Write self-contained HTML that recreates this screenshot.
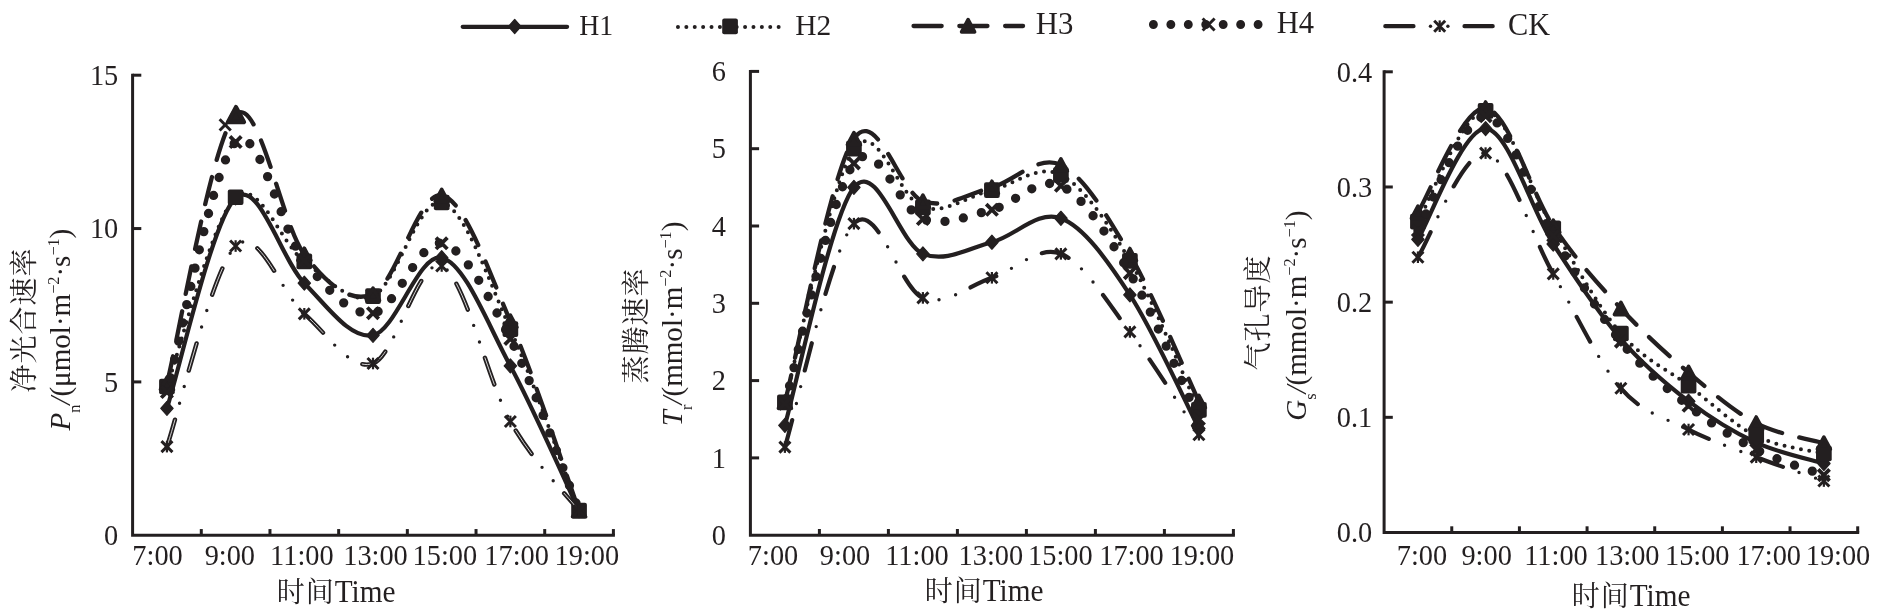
<!DOCTYPE html>
<html lang="zh"><head><meta charset="utf-8"><title>Diurnal variation of photosynthesis</title>
<style>html,body{margin:0;padding:0;background:#fff}svg{display:block;will-change:transform}text{font-family:'Liberation Serif', 'Noto Serif CJK SC', serif;fill:#231f20}</style></head><body>
<svg width="1893" height="615" viewBox="0 0 1893 615">
<rect width="1893" height="615" fill="#fff"/>
<path d="M166.94 408.28 C178.39 373.22 212.73 218.74 235.63 197.88 C258.52 177.03 281.42 260.25 304.31 283.15 C327.21 306.05 350.10 339.53 373.00 335.29 C395.90 331.04 418.79 252.58 441.69 257.69 C464.58 262.80 487.48 323.79 510.37 365.96 C533.27 408.13 567.61 486.60 579.06 510.72" fill="none" stroke="#231f20" stroke-width="4.2" stroke-linecap="round" stroke-linejoin="round"/>
<path d="M166.94 401.28 L173.14 408.28 L166.94 415.28 L160.74 408.28Z" fill="#231f20" stroke="#231f20" stroke-width="1.2" stroke-linejoin="round"/>
<path d="M235.63 190.88 L241.83 197.88 L235.63 204.88 L229.43 197.88Z" fill="#231f20" stroke="#231f20" stroke-width="1.2" stroke-linejoin="round"/>
<path d="M304.31 276.15 L310.51 283.15 L304.31 290.15 L298.11 283.15Z" fill="#231f20" stroke="#231f20" stroke-width="1.2" stroke-linejoin="round"/>
<path d="M373.00 328.29 L379.20 335.29 L373.00 342.29 L366.80 335.29Z" fill="#231f20" stroke="#231f20" stroke-width="1.2" stroke-linejoin="round"/>
<path d="M441.69 250.69 L447.89 257.69 L441.69 264.69 L435.49 257.69Z" fill="#231f20" stroke="#231f20" stroke-width="1.2" stroke-linejoin="round"/>
<path d="M510.37 358.96 L516.57 365.96 L510.37 372.96 L504.17 365.96Z" fill="#231f20" stroke="#231f20" stroke-width="1.2" stroke-linejoin="round"/>
<path d="M579.06 503.72 L585.26 510.72 L579.06 517.72 L572.86 510.72Z" fill="#231f20" stroke="#231f20" stroke-width="1.2" stroke-linejoin="round"/>
<path d="M166.94 386.51 C178.39 354.97 212.73 218.13 235.63 197.27 C258.52 176.41 281.42 244.91 304.31 261.37 C327.21 277.83 350.10 305.84 373.00 296.03 C395.90 286.21 418.79 196.96 441.69 202.48 C464.58 208.00 487.48 277.78 510.37 329.15 C533.27 380.53 567.61 480.46 579.06 510.72" fill="none" stroke="#231f20" stroke-width="4.0" stroke-linecap="round" stroke-linejoin="round" stroke-dasharray="0 8.39"/>
<rect x="159.09" y="378.66" width="15.70" height="15.70" rx="2" fill="#231f20"/>
<rect x="227.78" y="189.42" width="15.70" height="15.70" rx="2" fill="#231f20"/>
<rect x="296.46" y="253.52" width="15.70" height="15.70" rx="2" fill="#231f20"/>
<rect x="365.15" y="288.18" width="15.70" height="15.70" rx="2" fill="#231f20"/>
<rect x="433.84" y="194.63" width="15.70" height="15.70" rx="2" fill="#231f20"/>
<rect x="502.52" y="321.30" width="15.70" height="15.70" rx="2" fill="#231f20"/>
<rect x="571.21" y="502.87" width="15.70" height="15.70" rx="2" fill="#231f20"/>
<path d="M166.94 383.44 C178.39 338.61 212.73 135.98 235.63 114.46 C258.52 92.94 281.42 224.36 304.31 254.32 C327.21 284.27 350.10 304.00 373.00 294.19 C395.90 284.37 418.79 190.93 441.69 195.43 C464.58 199.93 487.48 268.63 510.37 321.18 C533.27 373.73 567.61 479.13 579.06 510.72" fill="none" stroke="#231f20" stroke-width="4.3" stroke-linecap="round" stroke-linejoin="round" stroke-dasharray="28.1 17.7"/>
<path d="M166.94 377.34 L173.44 389.54 L160.44 389.54Z" fill="#231f20" stroke="#231f20" stroke-width="3.60" stroke-linejoin="round"/>
<path d="M235.63 108.36 L242.13 120.56 L229.13 120.56Z" fill="#231f20" stroke="#231f20" stroke-width="3.60" stroke-linejoin="round"/>
<path d="M304.31 248.22 L310.81 260.42 L297.81 260.42Z" fill="#231f20" stroke="#231f20" stroke-width="3.60" stroke-linejoin="round"/>
<path d="M373.00 288.09 L379.50 300.29 L366.50 300.29Z" fill="#231f20" stroke="#231f20" stroke-width="3.60" stroke-linejoin="round"/>
<path d="M441.69 189.33 L448.19 201.53 L435.19 201.53Z" fill="#231f20" stroke="#231f20" stroke-width="3.60" stroke-linejoin="round"/>
<path d="M510.37 315.08 L516.87 327.28 L503.87 327.28Z" fill="#231f20" stroke="#231f20" stroke-width="3.60" stroke-linejoin="round"/>
<path d="M579.06 504.62 L585.56 516.82 L572.56 516.82Z" fill="#231f20" stroke="#231f20" stroke-width="3.60" stroke-linejoin="round"/>
<path d="M166.94 392.03 C178.39 350.37 212.73 163.94 235.63 142.06 C258.52 120.18 281.42 232.23 304.31 260.76 C327.21 289.28 350.10 316.12 373.00 313.20 C395.90 310.29 418.79 238.98 441.69 243.28 C464.58 247.57 487.48 294.39 510.37 338.97 C533.27 383.54 567.61 482.10 579.06 510.72" fill="none" stroke="#231f20" stroke-width="9.3" stroke-linecap="round" stroke-linejoin="round" stroke-dasharray="0 18.7" stroke-dashoffset="3.8"/>
<path d="M161.24 386.33 L172.64 397.73 M161.24 397.73 L172.64 386.33" stroke="#231f20" stroke-width="3.8" fill="none"/>
<path d="M229.93 136.36 L241.33 147.76 M229.93 147.76 L241.33 136.36" stroke="#231f20" stroke-width="3.8" fill="none"/>
<path d="M298.61 255.06 L310.01 266.46 M298.61 266.46 L310.01 255.06" stroke="#231f20" stroke-width="3.8" fill="none"/>
<path d="M367.30 307.50 L378.70 318.90 M367.30 318.90 L378.70 307.50" stroke="#231f20" stroke-width="3.8" fill="none"/>
<path d="M435.99 237.58 L447.39 248.98 M435.99 248.98 L447.39 237.58" stroke="#231f20" stroke-width="3.8" fill="none"/>
<path d="M504.67 333.27 L516.07 344.67 M504.67 344.67 L516.07 333.27" stroke="#231f20" stroke-width="3.8" fill="none"/>
<path d="M573.36 505.02 L584.76 516.42 M573.36 516.42 L584.76 505.02" stroke="#231f20" stroke-width="3.8" fill="none"/>
<path d="M166.94 446.62 C178.39 413.19 212.73 268.17 235.63 246.04 C258.52 223.90 281.42 294.24 304.31 313.82 C327.21 333.40 350.10 371.48 373.00 363.50 C395.90 355.53 418.79 256.31 441.69 265.97 C464.58 275.63 487.48 380.68 510.37 421.47 C533.27 462.26 567.61 495.85 579.06 510.72" fill="none" stroke="#231f20" stroke-width="4.4" stroke-linecap="round" stroke-linejoin="round" stroke-dasharray="28.2 51"/>
<path d="M166.94 446.62 C178.39 413.19 212.73 268.17 235.63 246.04 C258.52 223.90 281.42 294.24 304.31 313.82 C327.21 333.40 350.10 371.48 373.00 363.50 C395.90 355.53 418.79 256.31 441.69 265.97 C464.58 275.63 487.48 380.68 510.37 421.47 C533.27 462.26 567.61 495.85 579.06 510.72" fill="none" stroke="#fff" stroke-width="0.8" stroke-linecap="round" stroke-linejoin="round" stroke-dasharray="28.2 51"/>
<path d="M166.94 446.62 C178.39 413.19 212.73 268.17 235.63 246.04 C258.52 223.90 281.42 294.24 304.31 313.82 C327.21 333.40 350.10 371.48 373.00 363.50 C395.90 355.53 418.79 256.31 441.69 265.97 C464.58 275.63 487.48 380.68 510.37 421.47 C533.27 462.26 567.61 495.85 579.06 510.72" fill="none" stroke="#231f20" stroke-width="3.4" stroke-linecap="round" stroke-linejoin="round" stroke-dasharray="0 79.2" stroke-dashoffset="-45.2"/>
<path d="M166.94 446.62 C178.39 413.19 212.73 268.17 235.63 246.04 C258.52 223.90 281.42 294.24 304.31 313.82 C327.21 333.40 350.10 371.48 373.00 363.50 C395.90 355.53 418.79 256.31 441.69 265.97 C464.58 275.63 487.48 380.68 510.37 421.47 C533.27 462.26 567.61 495.85 579.06 510.72" fill="none" stroke="#231f20" stroke-width="3.4" stroke-linecap="round" stroke-linejoin="round" stroke-dasharray="0 79.2" stroke-dashoffset="-62.6"/>
<path d="M161.44 441.12 L172.44 452.12 M161.44 452.12 L172.44 441.12" stroke="#231f20" stroke-width="3" fill="none"/><path d="M166.94 440.82 L166.94 452.42" stroke="#231f20" stroke-width="2.2" fill="none"/>
<path d="M230.13 240.54 L241.13 251.54 M230.13 251.54 L241.13 240.54" stroke="#231f20" stroke-width="3" fill="none"/><path d="M235.63 240.24 L235.63 251.84" stroke="#231f20" stroke-width="2.2" fill="none"/>
<path d="M298.81 308.32 L309.81 319.32 M298.81 319.32 L309.81 308.32" stroke="#231f20" stroke-width="3" fill="none"/><path d="M304.31 308.02 L304.31 319.62" stroke="#231f20" stroke-width="2.2" fill="none"/>
<path d="M367.50 358.00 L378.50 369.00 M367.50 369.00 L378.50 358.00" stroke="#231f20" stroke-width="3" fill="none"/><path d="M373.00 357.70 L373.00 369.30" stroke="#231f20" stroke-width="2.2" fill="none"/>
<path d="M436.19 260.47 L447.19 271.47 M436.19 271.47 L447.19 260.47" stroke="#231f20" stroke-width="3" fill="none"/><path d="M441.69 260.17 L441.69 271.77" stroke="#231f20" stroke-width="2.2" fill="none"/>
<path d="M504.87 415.97 L515.87 426.97 M504.87 426.97 L515.87 415.97" stroke="#231f20" stroke-width="3" fill="none"/><path d="M510.37 415.67 L510.37 427.27" stroke="#231f20" stroke-width="2.2" fill="none"/>
<path d="M573.56 505.22 L584.56 516.22 M573.56 516.22 L584.56 505.22" stroke="#231f20" stroke-width="3" fill="none"/><path d="M579.06 504.92 L579.06 516.52" stroke="#231f20" stroke-width="2.2" fill="none"/>
<path d="M132.60 73.70 V535.26 H614.90" fill="none" stroke="#231f20" stroke-width="3.0" stroke-linejoin="miter"/>
<path d="M132.60 381.91 h8.7" stroke="#231f20" stroke-width="3.0"/>
<path d="M132.60 228.55 h8.7" stroke="#231f20" stroke-width="3.0"/>
<path d="M132.60 75.20 h8.7" stroke="#231f20" stroke-width="3.0"/>
<path d="M201.29 535.26 v-6.2" stroke="#231f20" stroke-width="3.0"/>
<path d="M269.97 535.26 v-6.2" stroke="#231f20" stroke-width="3.0"/>
<path d="M338.66 535.26 v-6.2" stroke="#231f20" stroke-width="3.0"/>
<path d="M407.34 535.26 v-6.2" stroke="#231f20" stroke-width="3.0"/>
<path d="M476.03 535.26 v-6.2" stroke="#231f20" stroke-width="3.0"/>
<path d="M544.71 535.26 v-6.2" stroke="#231f20" stroke-width="3.0"/>
<path d="M613.40 535.26 v-6.2" stroke="#231f20" stroke-width="3.0"/>
<text transform="translate(118.30 544.96) scale(0.93 1)" font-size="30.5" text-anchor="end" >0</text>
<text transform="translate(118.30 391.61) scale(0.93 1)" font-size="30.5" text-anchor="end" >5</text>
<text transform="translate(118.30 238.25) scale(0.93 1)" font-size="30.5" text-anchor="end" >10</text>
<text transform="translate(118.30 84.90) scale(0.93 1)" font-size="30.5" text-anchor="end" >15</text>
<text transform="translate(157.55 565.30) scale(0.93 1)" font-size="30.5" text-anchor="middle" >7:00</text>
<text transform="translate(229.85 565.30) scale(0.93 1)" font-size="30.5" text-anchor="middle" >9:00</text>
<text transform="translate(301.85 565.30) scale(0.93 1)" font-size="30.5" text-anchor="middle" >11:00</text>
<text transform="translate(375.50 565.30) scale(0.93 1)" font-size="30.5" text-anchor="middle" >13:00</text>
<text transform="translate(444.90 565.30) scale(0.93 1)" font-size="30.5" text-anchor="middle" >15:00</text>
<text transform="translate(516.60 565.30) scale(0.93 1)" font-size="30.5" text-anchor="middle" >17:00</text>
<text transform="translate(586.85 565.30) scale(0.93 1)" font-size="30.5" text-anchor="middle" >19:00</text>
<path d="M219.6 119.3 l11.2 11.2 M219.6 130.5 l11.2 -11.2" stroke="#231f20" stroke-width="3" fill="none"/>
<path d="M236.00 107.16 L243.93 122.04 L228.07 122.04Z" fill="#231f20" stroke="#231f20" stroke-width="4.39" stroke-linejoin="round"/>
<path d="M784.90 425.43 C796.40 385.75 830.90 215.95 853.90 187.35 C876.90 158.75 899.90 244.68 922.90 253.83 C945.90 262.98 968.90 248.16 991.90 242.23 C1014.90 236.31 1037.90 209.51 1060.90 218.27 C1083.90 227.03 1106.90 259.75 1129.90 294.80 C1152.90 329.84 1187.40 406.24 1198.90 428.53" fill="none" stroke="#231f20" stroke-width="4.2" stroke-linecap="round" stroke-linejoin="round"/>
<path d="M784.90 418.43 L791.10 425.43 L784.90 432.43 L778.70 425.43Z" fill="#231f20" stroke="#231f20" stroke-width="1.2" stroke-linejoin="round"/>
<path d="M853.90 180.35 L860.10 187.35 L853.90 194.35 L847.70 187.35Z" fill="#231f20" stroke="#231f20" stroke-width="1.2" stroke-linejoin="round"/>
<path d="M922.90 246.83 L929.10 253.83 L922.90 260.83 L916.70 253.83Z" fill="#231f20" stroke="#231f20" stroke-width="1.2" stroke-linejoin="round"/>
<path d="M991.90 235.23 L998.10 242.23 L991.90 249.23 L985.70 242.23Z" fill="#231f20" stroke="#231f20" stroke-width="1.2" stroke-linejoin="round"/>
<path d="M1060.90 211.27 L1067.10 218.27 L1060.90 225.27 L1054.70 218.27Z" fill="#231f20" stroke="#231f20" stroke-width="1.2" stroke-linejoin="round"/>
<path d="M1129.90 287.80 L1136.10 294.80 L1129.90 301.80 L1123.70 294.80Z" fill="#231f20" stroke="#231f20" stroke-width="1.2" stroke-linejoin="round"/>
<path d="M1198.90 421.53 L1205.10 428.53 L1198.90 435.53 L1192.70 428.53Z" fill="#231f20" stroke="#231f20" stroke-width="1.2" stroke-linejoin="round"/>
<path d="M784.90 402.24 C796.40 359.99 830.90 181.17 853.90 148.70 C876.90 116.23 899.90 200.56 922.90 207.45 C945.90 214.34 968.90 195.47 991.90 190.06 C1014.90 184.64 1037.90 163.19 1060.90 174.98 C1083.90 186.77 1106.90 221.62 1129.90 260.79 C1152.90 299.95 1187.40 385.11 1198.90 409.97" fill="none" stroke="#231f20" stroke-width="4.0" stroke-linecap="round" stroke-linejoin="round" stroke-dasharray="0 8.39"/>
<rect x="777.05" y="394.39" width="15.70" height="15.70" rx="2" fill="#231f20"/>
<rect x="846.05" y="140.85" width="15.70" height="15.70" rx="2" fill="#231f20"/>
<rect x="915.05" y="199.60" width="15.70" height="15.70" rx="2" fill="#231f20"/>
<rect x="984.05" y="182.21" width="15.70" height="15.70" rx="2" fill="#231f20"/>
<rect x="1053.05" y="167.13" width="15.70" height="15.70" rx="2" fill="#231f20"/>
<rect x="1122.05" y="252.94" width="15.70" height="15.70" rx="2" fill="#231f20"/>
<rect x="1191.05" y="402.12" width="15.70" height="15.70" rx="2" fill="#231f20"/>
<path d="M784.90 402.24 C796.40 358.31 830.90 172.15 853.90 138.65 C876.90 105.15 899.90 193.15 922.90 201.26 C945.90 209.38 968.90 193.41 991.90 187.35 C1014.90 181.29 1037.90 153.72 1060.90 164.93 C1083.90 176.14 1106.90 215.18 1129.90 254.60 C1152.90 294.02 1187.40 376.99 1198.90 401.47" fill="none" stroke="#231f20" stroke-width="4.3" stroke-linecap="round" stroke-linejoin="round" stroke-dasharray="28.1 17.7"/>
<path d="M784.90 396.14 L791.40 408.34 L778.40 408.34Z" fill="#231f20" stroke="#231f20" stroke-width="3.60" stroke-linejoin="round"/>
<path d="M853.90 132.55 L860.40 144.75 L847.40 144.75Z" fill="#231f20" stroke="#231f20" stroke-width="3.60" stroke-linejoin="round"/>
<path d="M922.90 195.16 L929.40 207.36 L916.40 207.36Z" fill="#231f20" stroke="#231f20" stroke-width="3.60" stroke-linejoin="round"/>
<path d="M991.90 181.25 L998.40 193.45 L985.40 193.45Z" fill="#231f20" stroke="#231f20" stroke-width="3.60" stroke-linejoin="round"/>
<path d="M1060.90 158.83 L1067.40 171.03 L1054.40 171.03Z" fill="#231f20" stroke="#231f20" stroke-width="3.60" stroke-linejoin="round"/>
<path d="M1129.90 248.50 L1136.40 260.70 L1123.40 260.70Z" fill="#231f20" stroke="#231f20" stroke-width="3.60" stroke-linejoin="round"/>
<path d="M1198.90 395.37 L1205.40 407.57 L1192.40 407.57Z" fill="#231f20" stroke="#231f20" stroke-width="3.60" stroke-linejoin="round"/>
<path d="M784.90 403.79 C796.40 363.72 830.90 194.18 853.90 163.39 C876.90 132.60 899.90 211.31 922.90 219.04 C945.90 226.77 968.90 215.31 991.90 209.77 C1014.90 204.23 1037.90 175.24 1060.90 185.80 C1083.90 196.37 1106.90 234.25 1129.90 273.15 C1152.90 312.06 1187.40 394.90 1198.90 419.25" fill="none" stroke="#231f20" stroke-width="9.3" stroke-linecap="round" stroke-linejoin="round" stroke-dasharray="0 18.7"/>
<path d="M779.20 398.09 L790.60 409.49 M779.20 409.49 L790.60 398.09" stroke="#231f20" stroke-width="3.8" fill="none"/>
<path d="M848.20 157.69 L859.60 169.09 M848.20 169.09 L859.60 157.69" stroke="#231f20" stroke-width="3.8" fill="none"/>
<path d="M917.20 213.34 L928.60 224.74 M917.20 224.74 L928.60 213.34" stroke="#231f20" stroke-width="3.8" fill="none"/>
<path d="M986.20 204.07 L997.60 215.47 M986.20 215.47 L997.60 204.07" stroke="#231f20" stroke-width="3.8" fill="none"/>
<path d="M1055.20 180.10 L1066.60 191.50 M1055.20 191.50 L1066.60 180.10" stroke="#231f20" stroke-width="3.8" fill="none"/>
<path d="M1124.20 267.45 L1135.60 278.85 M1124.20 278.85 L1135.60 267.45" stroke="#231f20" stroke-width="3.8" fill="none"/>
<path d="M1193.20 413.55 L1204.60 424.95 M1193.20 424.95 L1204.60 413.55" stroke="#231f20" stroke-width="3.8" fill="none"/>
<path d="M784.90 447.08 C796.40 409.85 830.90 248.55 853.90 223.68 C876.90 198.82 899.90 288.87 922.90 297.89 C945.90 306.91 968.90 285.13 991.90 277.79 C1014.90 270.45 1037.90 244.81 1060.90 253.83 C1083.90 262.85 1106.90 301.75 1129.90 331.90 C1152.90 362.05 1187.40 417.58 1198.90 434.71" fill="none" stroke="#231f20" stroke-width="4.2" stroke-linecap="round" stroke-linejoin="round" stroke-dasharray="28.2 51"/>
<path d="M784.90 447.08 C796.40 409.85 830.90 248.55 853.90 223.68 C876.90 198.82 899.90 288.87 922.90 297.89 C945.90 306.91 968.90 285.13 991.90 277.79 C1014.90 270.45 1037.90 244.81 1060.90 253.83 C1083.90 262.85 1106.90 301.75 1129.90 331.90 C1152.90 362.05 1187.40 417.58 1198.90 434.71" fill="none" stroke="#231f20" stroke-width="3.4" stroke-linecap="round" stroke-linejoin="round" stroke-dasharray="0 79.2" stroke-dashoffset="-45.2"/>
<path d="M784.90 447.08 C796.40 409.85 830.90 248.55 853.90 223.68 C876.90 198.82 899.90 288.87 922.90 297.89 C945.90 306.91 968.90 285.13 991.90 277.79 C1014.90 270.45 1037.90 244.81 1060.90 253.83 C1083.90 262.85 1106.90 301.75 1129.90 331.90 C1152.90 362.05 1187.40 417.58 1198.90 434.71" fill="none" stroke="#231f20" stroke-width="3.4" stroke-linecap="round" stroke-linejoin="round" stroke-dasharray="0 79.2" stroke-dashoffset="-62.6"/>
<path d="M779.40 441.58 L790.40 452.58 M779.40 452.58 L790.40 441.58" stroke="#231f20" stroke-width="3" fill="none"/><path d="M784.90 441.28 L784.90 452.88" stroke="#231f20" stroke-width="2.2" fill="none"/>
<path d="M848.40 218.18 L859.40 229.18 M848.40 229.18 L859.40 218.18" stroke="#231f20" stroke-width="3" fill="none"/><path d="M853.90 217.88 L853.90 229.48" stroke="#231f20" stroke-width="2.2" fill="none"/>
<path d="M917.40 292.39 L928.40 303.39 M917.40 303.39 L928.40 292.39" stroke="#231f20" stroke-width="3" fill="none"/><path d="M922.90 292.09 L922.90 303.69" stroke="#231f20" stroke-width="2.2" fill="none"/>
<path d="M986.40 272.29 L997.40 283.29 M986.40 283.29 L997.40 272.29" stroke="#231f20" stroke-width="3" fill="none"/><path d="M991.90 271.99 L991.90 283.59" stroke="#231f20" stroke-width="2.2" fill="none"/>
<path d="M1055.40 248.33 L1066.40 259.33 M1055.40 259.33 L1066.40 248.33" stroke="#231f20" stroke-width="3" fill="none"/><path d="M1060.90 248.03 L1060.90 259.63" stroke="#231f20" stroke-width="2.2" fill="none"/>
<path d="M1124.40 326.40 L1135.40 337.40 M1124.40 337.40 L1135.40 326.40" stroke="#231f20" stroke-width="3" fill="none"/><path d="M1129.90 326.10 L1129.90 337.70" stroke="#231f20" stroke-width="2.2" fill="none"/>
<path d="M1193.40 429.21 L1204.40 440.21 M1193.40 440.21 L1204.40 429.21" stroke="#231f20" stroke-width="3" fill="none"/><path d="M1198.90 428.91 L1198.90 440.51" stroke="#231f20" stroke-width="2.2" fill="none"/>
<path d="M750.40 69.90 V535.20 H1234.90" fill="none" stroke="#231f20" stroke-width="3.0" stroke-linejoin="miter"/>
<path d="M750.40 457.90 h8.7" stroke="#231f20" stroke-width="3.0"/>
<path d="M750.40 380.60 h8.7" stroke="#231f20" stroke-width="3.0"/>
<path d="M750.40 303.30 h8.7" stroke="#231f20" stroke-width="3.0"/>
<path d="M750.40 226.00 h8.7" stroke="#231f20" stroke-width="3.0"/>
<path d="M750.40 148.70 h8.7" stroke="#231f20" stroke-width="3.0"/>
<path d="M750.40 71.40 h8.7" stroke="#231f20" stroke-width="3.0"/>
<path d="M819.40 535.20 v-6.2" stroke="#231f20" stroke-width="3.0"/>
<path d="M888.40 535.20 v-6.2" stroke="#231f20" stroke-width="3.0"/>
<path d="M957.40 535.20 v-6.2" stroke="#231f20" stroke-width="3.0"/>
<path d="M1026.40 535.20 v-6.2" stroke="#231f20" stroke-width="3.0"/>
<path d="M1095.40 535.20 v-6.2" stroke="#231f20" stroke-width="3.0"/>
<path d="M1164.40 535.20 v-6.2" stroke="#231f20" stroke-width="3.0"/>
<path d="M1233.40 535.20 v-6.2" stroke="#231f20" stroke-width="3.0"/>
<text transform="translate(726.00 544.90) scale(0.93 1)" font-size="30.5" text-anchor="end" >0</text>
<text transform="translate(726.00 467.60) scale(0.93 1)" font-size="30.5" text-anchor="end" >1</text>
<text transform="translate(726.00 390.30) scale(0.93 1)" font-size="30.5" text-anchor="end" >2</text>
<text transform="translate(726.00 313.00) scale(0.93 1)" font-size="30.5" text-anchor="end" >3</text>
<text transform="translate(726.00 235.70) scale(0.93 1)" font-size="30.5" text-anchor="end" >4</text>
<text transform="translate(726.00 158.40) scale(0.93 1)" font-size="30.5" text-anchor="end" >5</text>
<text transform="translate(726.00 81.10) scale(0.93 1)" font-size="30.5" text-anchor="end" >6</text>
<text transform="translate(773.05 565.40) scale(0.93 1)" font-size="30.5" text-anchor="middle" >7:00</text>
<text transform="translate(845.05 565.40) scale(0.93 1)" font-size="30.5" text-anchor="middle" >9:00</text>
<text transform="translate(917.00 565.40) scale(0.93 1)" font-size="30.5" text-anchor="middle" >11:00</text>
<text transform="translate(990.90 565.40) scale(0.93 1)" font-size="30.5" text-anchor="middle" >13:00</text>
<text transform="translate(1060.40 565.40) scale(0.93 1)" font-size="30.5" text-anchor="middle" >15:00</text>
<text transform="translate(1131.50 565.40) scale(0.93 1)" font-size="30.5" text-anchor="middle" >17:00</text>
<text transform="translate(1201.95 565.40) scale(0.93 1)" font-size="30.5" text-anchor="middle" >19:00</text>
<path d="M1417.93 239.38 C1429.20 220.93 1463.03 127.93 1485.59 128.70 C1508.14 129.46 1530.69 208.94 1553.24 243.99 C1575.80 279.04 1598.35 312.80 1620.90 339.01 C1643.45 365.21 1666.00 383.92 1688.56 401.20 C1711.11 418.48 1733.66 432.28 1756.21 442.66 C1778.77 453.05 1812.60 460.04 1823.87 463.51" fill="none" stroke="#231f20" stroke-width="4.2" stroke-linecap="round" stroke-linejoin="round"/>
<path d="M1417.93 232.38 L1424.13 239.38 L1417.93 246.38 L1411.73 239.38Z" fill="#231f20" stroke="#231f20" stroke-width="1.2" stroke-linejoin="round"/>
<path d="M1485.59 121.70 L1491.79 128.70 L1485.59 135.70 L1479.39 128.70Z" fill="#231f20" stroke="#231f20" stroke-width="1.2" stroke-linejoin="round"/>
<path d="M1553.24 236.99 L1559.44 243.99 L1553.24 250.99 L1547.04 243.99Z" fill="#231f20" stroke="#231f20" stroke-width="1.2" stroke-linejoin="round"/>
<path d="M1620.90 332.01 L1627.10 339.01 L1620.90 346.01 L1614.70 339.01Z" fill="#231f20" stroke="#231f20" stroke-width="1.2" stroke-linejoin="round"/>
<path d="M1688.56 394.20 L1694.76 401.20 L1688.56 408.20 L1682.36 401.20Z" fill="#231f20" stroke="#231f20" stroke-width="1.2" stroke-linejoin="round"/>
<path d="M1756.21 435.66 L1762.41 442.66 L1756.21 449.66 L1750.01 442.66Z" fill="#231f20" stroke="#231f20" stroke-width="1.2" stroke-linejoin="round"/>
<path d="M1823.87 456.51 L1830.07 463.51 L1823.87 470.51 L1817.67 463.51Z" fill="#231f20" stroke="#231f20" stroke-width="1.2" stroke-linejoin="round"/>
<path d="M1417.93 221.53 C1429.20 203.10 1463.03 109.81 1485.59 110.96 C1508.14 112.11 1530.69 191.35 1553.24 228.44 C1575.80 265.52 1598.35 307.29 1620.90 333.48 C1643.45 359.66 1666.00 368.43 1688.56 385.54 C1711.11 402.64 1733.66 424.77 1756.21 436.10 C1778.77 447.42 1812.60 450.59 1823.87 453.49" fill="none" stroke="#231f20" stroke-width="4.0" stroke-linecap="round" stroke-linejoin="round" stroke-dasharray="0 8.39"/>
<rect x="1410.08" y="213.68" width="15.70" height="15.70" rx="2" fill="#231f20"/>
<rect x="1477.74" y="103.11" width="15.70" height="15.70" rx="2" fill="#231f20"/>
<rect x="1545.39" y="220.59" width="15.70" height="15.70" rx="2" fill="#231f20"/>
<rect x="1613.05" y="325.63" width="15.70" height="15.70" rx="2" fill="#231f20"/>
<rect x="1680.71" y="377.69" width="15.70" height="15.70" rx="2" fill="#231f20"/>
<rect x="1748.36" y="428.25" width="15.70" height="15.70" rx="2" fill="#231f20"/>
<rect x="1816.02" y="445.64" width="15.70" height="15.70" rx="2" fill="#231f20"/>
<path d="M1417.93 212.31 C1429.20 194.94 1463.03 105.78 1485.59 108.08 C1508.14 110.38 1530.69 192.73 1553.24 226.13 C1575.80 259.54 1598.35 284.09 1620.90 308.48 C1643.45 332.88 1666.00 353.42 1688.56 372.52 C1711.11 391.62 1733.66 411.32 1756.21 423.08 C1778.77 434.85 1812.60 439.78 1823.87 443.12" fill="none" stroke="#231f20" stroke-width="4.3" stroke-linecap="round" stroke-linejoin="round" stroke-dasharray="28.1 17.7"/>
<path d="M1417.93 206.21 L1424.43 218.41 L1411.43 218.41Z" fill="#231f20" stroke="#231f20" stroke-width="3.60" stroke-linejoin="round"/>
<path d="M1485.59 101.98 L1492.09 114.18 L1479.09 114.18Z" fill="#231f20" stroke="#231f20" stroke-width="3.60" stroke-linejoin="round"/>
<path d="M1553.24 220.03 L1559.74 232.23 L1546.74 232.23Z" fill="#231f20" stroke="#231f20" stroke-width="3.60" stroke-linejoin="round"/>
<path d="M1620.90 302.38 L1627.40 314.58 L1614.40 314.58Z" fill="#231f20" stroke="#231f20" stroke-width="3.60" stroke-linejoin="round"/>
<path d="M1688.56 366.42 L1695.06 378.62 L1682.06 378.62Z" fill="#231f20" stroke="#231f20" stroke-width="3.60" stroke-linejoin="round"/>
<path d="M1756.21 416.98 L1762.71 429.18 L1749.71 429.18Z" fill="#231f20" stroke="#231f20" stroke-width="3.60" stroke-linejoin="round"/>
<path d="M1823.87 437.02 L1830.37 449.22 L1817.37 449.22Z" fill="#231f20" stroke="#231f20" stroke-width="3.60" stroke-linejoin="round"/>
<path d="M1417.93 230.74 C1429.20 211.64 1463.03 115.28 1485.59 116.14 C1508.14 117.01 1530.69 198.34 1553.24 235.92 C1575.80 273.51 1598.35 313.34 1620.90 341.66 C1643.45 369.97 1666.00 387.82 1688.56 405.81 C1711.11 423.79 1733.66 438.02 1756.21 449.57 C1778.77 461.13 1812.60 470.88 1823.87 475.14" fill="none" stroke="#231f20" stroke-width="9.3" stroke-linecap="round" stroke-linejoin="round" stroke-dasharray="0 18.7"/>
<path d="M1412.23 225.04 L1423.63 236.44 M1412.23 236.44 L1423.63 225.04" stroke="#231f20" stroke-width="3.8" fill="none"/>
<path d="M1479.89 110.44 L1491.29 121.84 M1479.89 121.84 L1491.29 110.44" stroke="#231f20" stroke-width="3.8" fill="none"/>
<path d="M1547.54 230.22 L1558.94 241.62 M1547.54 241.62 L1558.94 230.22" stroke="#231f20" stroke-width="3.8" fill="none"/>
<path d="M1615.20 335.96 L1626.60 347.36 M1615.20 347.36 L1626.60 335.96" stroke="#231f20" stroke-width="3.8" fill="none"/>
<path d="M1682.86 400.11 L1694.26 411.51 M1682.86 411.51 L1694.26 400.11" stroke="#231f20" stroke-width="3.8" fill="none"/>
<path d="M1750.51 443.87 L1761.91 455.27 M1750.51 455.27 L1761.91 443.87" stroke="#231f20" stroke-width="3.8" fill="none"/>
<path d="M1818.17 469.44 L1829.57 480.84 M1818.17 480.84 L1829.57 469.44" stroke="#231f20" stroke-width="3.8" fill="none"/>
<path d="M1417.93 257.23 C1429.20 239.88 1463.03 150.33 1485.59 153.11 C1508.14 155.90 1530.69 234.73 1553.24 273.93 C1575.80 313.13 1598.35 362.37 1620.90 388.30 C1643.45 414.23 1666.00 418.05 1688.56 429.53 C1711.11 441.01 1733.66 448.60 1756.21 457.18 C1778.77 465.76 1812.60 477.04 1823.87 481.02" fill="none" stroke="#231f20" stroke-width="4.2" stroke-linecap="round" stroke-linejoin="round" stroke-dasharray="28.2 51"/>
<path d="M1417.93 257.23 C1429.20 239.88 1463.03 150.33 1485.59 153.11 C1508.14 155.90 1530.69 234.73 1553.24 273.93 C1575.80 313.13 1598.35 362.37 1620.90 388.30 C1643.45 414.23 1666.00 418.05 1688.56 429.53 C1711.11 441.01 1733.66 448.60 1756.21 457.18 C1778.77 465.76 1812.60 477.04 1823.87 481.02" fill="none" stroke="#231f20" stroke-width="3.4" stroke-linecap="round" stroke-linejoin="round" stroke-dasharray="0 79.2" stroke-dashoffset="-45.2"/>
<path d="M1417.93 257.23 C1429.20 239.88 1463.03 150.33 1485.59 153.11 C1508.14 155.90 1530.69 234.73 1553.24 273.93 C1575.80 313.13 1598.35 362.37 1620.90 388.30 C1643.45 414.23 1666.00 418.05 1688.56 429.53 C1711.11 441.01 1733.66 448.60 1756.21 457.18 C1778.77 465.76 1812.60 477.04 1823.87 481.02" fill="none" stroke="#231f20" stroke-width="3.4" stroke-linecap="round" stroke-linejoin="round" stroke-dasharray="0 79.2" stroke-dashoffset="-62.6"/>
<path d="M1412.43 251.73 L1423.43 262.73 M1412.43 262.73 L1423.43 251.73" stroke="#231f20" stroke-width="3" fill="none"/><path d="M1417.93 251.43 L1417.93 263.03" stroke="#231f20" stroke-width="2.2" fill="none"/>
<path d="M1480.09 147.61 L1491.09 158.61 M1480.09 158.61 L1491.09 147.61" stroke="#231f20" stroke-width="3" fill="none"/><path d="M1485.59 147.31 L1485.59 158.91" stroke="#231f20" stroke-width="2.2" fill="none"/>
<path d="M1547.74 268.43 L1558.74 279.43 M1547.74 279.43 L1558.74 268.43" stroke="#231f20" stroke-width="3" fill="none"/><path d="M1553.24 268.13 L1553.24 279.73" stroke="#231f20" stroke-width="2.2" fill="none"/>
<path d="M1615.40 382.80 L1626.40 393.80 M1615.40 393.80 L1626.40 382.80" stroke="#231f20" stroke-width="3" fill="none"/><path d="M1620.90 382.50 L1620.90 394.10" stroke="#231f20" stroke-width="2.2" fill="none"/>
<path d="M1683.06 424.03 L1694.06 435.03 M1683.06 435.03 L1694.06 424.03" stroke="#231f20" stroke-width="3" fill="none"/><path d="M1688.56 423.73 L1688.56 435.33" stroke="#231f20" stroke-width="2.2" fill="none"/>
<path d="M1750.71 451.68 L1761.71 462.68 M1750.71 462.68 L1761.71 451.68" stroke="#231f20" stroke-width="3" fill="none"/><path d="M1756.21 451.38 L1756.21 462.98" stroke="#231f20" stroke-width="2.2" fill="none"/>
<path d="M1818.37 475.52 L1829.37 486.52 M1818.37 486.52 L1829.37 475.52" stroke="#231f20" stroke-width="3" fill="none"/><path d="M1823.87 475.22 L1823.87 486.82" stroke="#231f20" stroke-width="2.2" fill="none"/>
<path d="M1384.10 70.30 V532.50 H1859.20" fill="none" stroke="#231f20" stroke-width="3.0" stroke-linejoin="miter"/>
<path d="M1384.10 417.32 h8.7" stroke="#231f20" stroke-width="3.0"/>
<path d="M1384.10 302.15 h8.7" stroke="#231f20" stroke-width="3.0"/>
<path d="M1384.10 186.98 h8.7" stroke="#231f20" stroke-width="3.0"/>
<path d="M1384.10 71.80 h8.7" stroke="#231f20" stroke-width="3.0"/>
<path d="M1451.76 532.50 v-6.2" stroke="#231f20" stroke-width="3.0"/>
<path d="M1519.41 532.50 v-6.2" stroke="#231f20" stroke-width="3.0"/>
<path d="M1587.07 532.50 v-6.2" stroke="#231f20" stroke-width="3.0"/>
<path d="M1654.73 532.50 v-6.2" stroke="#231f20" stroke-width="3.0"/>
<path d="M1722.39 532.50 v-6.2" stroke="#231f20" stroke-width="3.0"/>
<path d="M1790.04 532.50 v-6.2" stroke="#231f20" stroke-width="3.0"/>
<path d="M1857.70 532.50 v-6.2" stroke="#231f20" stroke-width="3.0"/>
<text transform="translate(1372.20 542.20) scale(0.93 1)" font-size="30.5" text-anchor="end" >0.0</text>
<text transform="translate(1372.20 427.02) scale(0.93 1)" font-size="30.5" text-anchor="end" >0.1</text>
<text transform="translate(1372.20 311.85) scale(0.93 1)" font-size="30.5" text-anchor="end" >0.2</text>
<text transform="translate(1372.20 196.68) scale(0.93 1)" font-size="30.5" text-anchor="end" >0.3</text>
<text transform="translate(1372.20 81.50) scale(0.93 1)" font-size="30.5" text-anchor="end" >0.4</text>
<text transform="translate(1421.95 565.10) scale(0.93 1)" font-size="30.5" text-anchor="middle" >7:00</text>
<text transform="translate(1486.65 565.10) scale(0.93 1)" font-size="30.5" text-anchor="middle" >9:00</text>
<text transform="translate(1556.00 565.10) scale(0.93 1)" font-size="30.5" text-anchor="middle" >11:00</text>
<text transform="translate(1627.25 565.10) scale(0.93 1)" font-size="30.5" text-anchor="middle" >13:00</text>
<text transform="translate(1697.25 565.10) scale(0.93 1)" font-size="30.5" text-anchor="middle" >15:00</text>
<text transform="translate(1768.70 565.10) scale(0.93 1)" font-size="30.5" text-anchor="middle" >17:00</text>
<text transform="translate(1838.00 565.10) scale(0.93 1)" font-size="30.5" text-anchor="middle" >19:00</text>
<text transform="translate(276.80 602.20) scale(1 1)" font-size="28" text-anchor="start" letter-spacing="1">时间</text>
<text transform="translate(334.70 602.20) scale(0.96 1)" font-size="30.5" text-anchor="start" >Time</text>
<text transform="translate(924.80 601.00) scale(1 1)" font-size="28" text-anchor="start" letter-spacing="1">时间</text>
<text transform="translate(982.70 601.00) scale(0.96 1)" font-size="30.5" text-anchor="start" >Time</text>
<text transform="translate(1571.80 605.85) scale(1 1)" font-size="28" text-anchor="start" letter-spacing="1">时间</text>
<text transform="translate(1629.70 605.85) scale(0.96 1)" font-size="30.5" text-anchor="start" >Time</text>
<text transform="translate(33.5 319.9) rotate(-90)" font-size="28" text-anchor="middle" letter-spacing="1">净光合速率</text>
<text transform="translate(70.0 329.6) rotate(-90) scale(0.953 1)" font-size="30.5" text-anchor="middle"><tspan font-style="italic">P</tspan><tspan font-size="17" dy="10">n</tspan><tspan dy="-10" font-style="italic">/</tspan><tspan>(μmol·m</tspan><tspan font-size="17" dy="-11.5">−2</tspan><tspan dy="11.5">·s</tspan><tspan font-size="17" dy="-11.5">−1</tspan><tspan dy="11.5">)</tspan></text>
<text transform="translate(645.9 325.6) rotate(-90)" font-size="28" text-anchor="middle" letter-spacing="1">蒸腾速率</text>
<text transform="translate(682.4 323.9) rotate(-90) scale(0.953 1)" font-size="30.5" text-anchor="middle"><tspan font-style="italic">T</tspan><tspan font-size="17" dy="10">r</tspan><tspan dy="-10" font-style="italic">/</tspan><tspan>(mmol·m</tspan><tspan font-size="17" dy="-11.5">−2</tspan><tspan dy="11.5">·s</tspan><tspan font-size="17" dy="-11.5">−1</tspan><tspan dy="11.5">)</tspan></text>
<text transform="translate(1267.7 312.4) rotate(-90)" font-size="28" text-anchor="middle" letter-spacing="1">气孔导度</text>
<text transform="translate(1306.3 315.7) rotate(-90) scale(0.953 1)" font-size="30.5" text-anchor="middle"><tspan font-style="italic">G</tspan><tspan font-size="17" dy="10">s</tspan><tspan dy="-10" font-style="italic">/</tspan><tspan>(mmol·m</tspan><tspan font-size="17" dy="-11.5">−2</tspan><tspan dy="11.5">·s</tspan><tspan font-size="17" dy="-11.5">−1</tspan><tspan dy="11.5">)</tspan></text>
<path d="M462.70 26.80 H567.10" fill="none" stroke="#231f20" stroke-width="4.2" stroke-linecap="round"/>
<path d="M514.70 19.50 L520.90 26.50 L514.70 33.50 L508.50 26.50Z" fill="#231f20" stroke="#231f20" stroke-width="1.2" stroke-linejoin="round"/>
<text transform="translate(579.20 35.10) scale(0.91 1)" font-size="30.5" text-anchor="start" >H1</text>
<path d="M677.96 26.90 H778.70" fill="none" stroke="#231f20" stroke-width="4.0" stroke-linecap="round" stroke-dasharray="0 8.39"/>
<rect x="722.20" y="18.55" width="15.70" height="15.70" rx="2" fill="#231f20"/>
<text transform="translate(795.30 35.10) scale(0.965 1)" font-size="30.5" text-anchor="start" >H2</text>
<path d="M913.55 26.00 H1023.05" fill="none" stroke="#231f20" stroke-width="4.3" stroke-linecap="round" stroke-dasharray="28.1 17.7"/>
<path d="M968.10 19.70 L974.60 31.90 L961.60 31.90Z" fill="#231f20" stroke="#231f20" stroke-width="3.60" stroke-linejoin="round"/>
<text transform="translate(1035.80 34.05) scale(1.01 1)" font-size="30.5" text-anchor="start" >H3</text>
<path d="M1153.40 24.50 H1258.50" fill="none" stroke="#231f20" stroke-width="8.9" stroke-linecap="round" stroke-dasharray="0 17.45"/>
<path d="M1202.60 18.50 L1214.60 30.50 M1202.60 30.50 L1214.60 18.50" stroke="#231f20" stroke-width="3.0" fill="none"/>
<text transform="translate(1276.80 33.00) scale(1.0 1)" font-size="30.5" text-anchor="start" >H4</text>
<path d="M1385.30 26.20 H1492.80" fill="none" stroke="#231f20" stroke-width="4.2" stroke-linecap="round" stroke-dasharray="28.2 51"/>
<path d="M1385.30 26.20 H1492.80" fill="none" stroke="#231f20" stroke-width="3.4" stroke-linecap="round" stroke-dasharray="0 79.2" stroke-dashoffset="-45.2"/>
<path d="M1385.30 26.20 H1492.80" fill="none" stroke="#231f20" stroke-width="3.4" stroke-linecap="round" stroke-dasharray="0 79.2" stroke-dashoffset="-62.6"/>
<path d="M1434.20 20.70 L1445.20 31.70 M1434.20 31.70 L1445.20 20.70" stroke="#231f20" stroke-width="3" fill="none"/><path d="M1439.70 20.40 L1439.70 32.00" stroke="#231f20" stroke-width="2.2" fill="none"/>
<text transform="translate(1508.10 34.80) scale(0.995 1)" font-size="30.5" text-anchor="start" >CK</text>
</svg></body></html>
